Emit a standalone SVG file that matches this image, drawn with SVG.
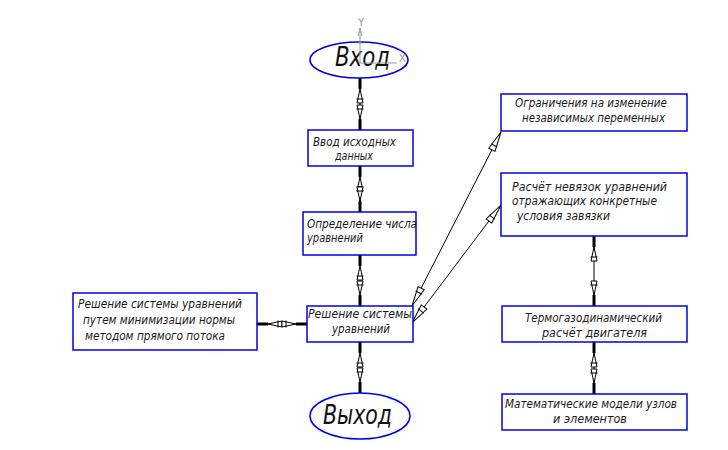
<svg xmlns="http://www.w3.org/2000/svg" xmlns:xlink="http://www.w3.org/1999/xlink" width="728" height="450" viewBox="0 0 728 450">
<style>
.box{fill:#fff;stroke:#0000e6;stroke-width:1.5}
.ell{fill:#fff;stroke:#0000e6;stroke-width:1.5}
.t{font-family:"DejaVu Sans Condensed","DejaVu Sans",sans-serif;font-style:italic;font-size:12px;fill:#1a1a1a}
.big{font-family:"DejaVu Sans Condensed","DejaVu Sans",sans-serif;font-style:italic;font-size:27px;fill:#111}
.ln{stroke:#000;stroke-width:1;fill:none}
.ax{stroke:#999;stroke-width:1;fill:none}
.axt{font-family:"DejaVu Sans",sans-serif;font-size:10px;fill:#999}
</style>
<defs>
<g id="vend">
<line x1="0" y1="0" x2="0" y2="11" stroke="#000" stroke-width="3"/>
<polygon points="0,11 -3,25 3,25" fill="#fff" stroke="#000" stroke-width="1"/>
<line x1="-3.5" y1="21" x2="3.5" y2="21" stroke="#000" stroke-width="1"/>
</g>
<g id="dend">
<polygon points="0,0 -3.5,20 3.5,20" fill="#fff" stroke="#000" stroke-width="1"/>
<line x1="-3.5" y1="15" x2="3.5" y2="15" stroke="#000" stroke-width="1"/>
</g>
</defs>
<rect width="728" height="450" fill="#fff"/>

<g id="connectors">
<line class="ln" x1="360" y1="78" x2="360" y2="130"/>
<use xlink:href="#vend" transform="translate(360,78)"/>
<use xlink:href="#vend" transform="translate(360,130) rotate(180)"/>
<line class="ln" x1="360" y1="166" x2="360" y2="212"/>
<use xlink:href="#vend" transform="translate(360,166)"/>
<use xlink:href="#vend" transform="translate(360,212) rotate(180)"/>
<line class="ln" x1="360" y1="255" x2="360" y2="306"/>
<use xlink:href="#vend" transform="translate(360,255)"/>
<use xlink:href="#vend" transform="translate(360,306) rotate(180)"/>
<line class="ln" x1="360" y1="342" x2="360" y2="393"/>
<use xlink:href="#vend" transform="translate(360,342)"/>
<use xlink:href="#vend" transform="translate(360,393) rotate(180)"/>
<line class="ln" x1="257" y1="324" x2="307" y2="324"/>
<use xlink:href="#vend" transform="translate(257,324) rotate(-90)"/>
<use xlink:href="#vend" transform="translate(307,324) rotate(90)"/>
<line class="ln" x1="594" y1="236" x2="594" y2="306"/>
<use xlink:href="#vend" transform="translate(594,236)"/>
<use xlink:href="#vend" transform="translate(594,306) rotate(180)"/>
<line class="ln" x1="594" y1="342" x2="594" y2="394"/>
<use xlink:href="#vend" transform="translate(594,342)"/>
<use xlink:href="#vend" transform="translate(594,394) rotate(180)"/>
<line class="ln" x1="412" y1="306" x2="501" y2="132"/>
<use xlink:href="#dend" transform="translate(501,132) rotate(27.1)"/>
<use xlink:href="#dend" transform="translate(412,306) rotate(207.1)"/>
<line class="ln" x1="412" y1="323" x2="501" y2="205"/>
<use xlink:href="#dend" transform="translate(501,205) rotate(37)"/>
<use xlink:href="#dend" transform="translate(412,323) rotate(217)"/>
</g>

<g id="input">
<ellipse class="ell" cx="359" cy="60" rx="49" ry="18"/>
<text class="big" x="335" y="66" textLength="55" lengthAdjust="spacingAndGlyphs">Вход</text>
<line class="ax" x1="360" y1="28" x2="360" y2="63"/>
<polyline class="ax" points="358,36 360,28 362,36"/>
<line class="ax" x1="360" y1="63" x2="397" y2="63"/>
<text class="axt" x="399" y="62">X</text>
<text class="axt" x="358" y="26">Y</text>
</g>

<g id="n-input-data">
<rect class="box" x="308" y="130" width="105" height="36"/>
<text class="t" x="313" y="146" textLength="83" lengthAdjust="spacingAndGlyphs">Ввод исходных</text>
<text class="t" x="335" y="160" textLength="38" lengthAdjust="spacingAndGlyphs">данных</text>
</g>

<g id="n-eq-count">
<rect class="box" x="303" y="212" width="113" height="43"/>
<text class="t" x="307" y="228" textLength="110" lengthAdjust="spacingAndGlyphs">Определение числа</text>
<text class="t" x="307" y="242" textLength="56" lengthAdjust="spacingAndGlyphs">уравнений</text>
</g>

<g id="n-solve">
<rect class="box" x="307" y="306" width="106" height="36"/>
<text class="t" x="308" y="318" textLength="104" lengthAdjust="spacingAndGlyphs">Решение системы</text>
<text class="t" x="332" y="333" textLength="58" lengthAdjust="spacingAndGlyphs">уравнений</text>
</g>

<g id="n-direct-flow">
<rect class="box" x="73" y="293" width="184" height="57"/>
<text class="t" x="78" y="308" textLength="164" lengthAdjust="spacingAndGlyphs">Решение системы уравнений</text>
<text class="t" x="83" y="324" textLength="152" lengthAdjust="spacingAndGlyphs">путем минимизации нормы</text>
<text class="t" x="85" y="340" textLength="140" lengthAdjust="spacingAndGlyphs">методом прямого потока</text>
</g>

<g id="output">
<ellipse class="ell" cx="360" cy="416" rx="50" ry="23"/>
<text class="big" x="323" y="424" textLength="69" lengthAdjust="spacingAndGlyphs">Выход</text>
</g>

<g id="n-constraints">
<rect class="box" x="501" y="94" width="186" height="37"/>
<text class="t" x="515" y="107" textLength="152" lengthAdjust="spacingAndGlyphs">Ограничения на изменение</text>
<text class="t" x="522" y="122" textLength="143" lengthAdjust="spacingAndGlyphs">независимых переменных</text>
</g>

<g id="n-residuals">
<rect class="box" x="501" y="173" width="186" height="63"/>
<text class="t" x="512" y="191" textLength="155" lengthAdjust="spacingAndGlyphs">Расчёт невязок уравнений</text>
<text class="t" x="512" y="205" textLength="145" lengthAdjust="spacingAndGlyphs">отражающих конкретные</text>
<text class="t" x="517" y="220" textLength="93" lengthAdjust="spacingAndGlyphs">условия завязки</text>
</g>

<g id="n-thermo">
<rect class="box" x="502" y="306" width="185" height="36"/>
<text class="t" x="525" y="322" textLength="137" lengthAdjust="spacingAndGlyphs">Термогазодинамический</text>
<text class="t" x="542" y="337" textLength="105" lengthAdjust="spacingAndGlyphs">расчёт двигателя</text>
</g>

<g id="n-models">
<rect class="box" x="502" y="394" width="185" height="36"/>
<text class="t" x="505" y="408" textLength="172" lengthAdjust="spacingAndGlyphs">Математические модели узлов</text>
<text class="t" x="553" y="423" textLength="74" lengthAdjust="spacingAndGlyphs">и элементов</text>
</g>
</svg>
